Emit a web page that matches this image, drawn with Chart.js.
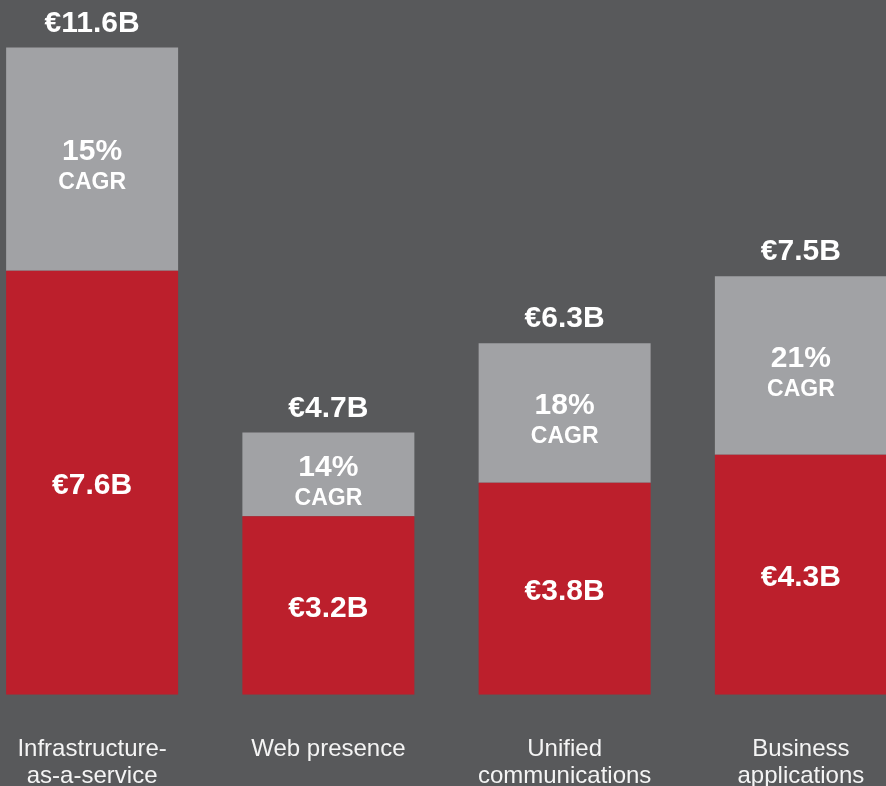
<!DOCTYPE html>
<html>
<head>
<meta charset="utf-8">
<script src="https://cdn.jsdelivr.net/npm/chart.js@4"></script>
<style>
    html, body {
        margin: 0;
        padding: 0;
        background: #58595b;
        overflow: hidden;
        width: 886px;
        height: 786px;
    }
    #marketChart {
        position: absolute;
        left: -26px;
        top: 0;
    }
</style>
</head>
<body>
<canvas id="marketChart" width="945" height="831"></canvas>
<script>
// Chart data
const categories = [
    ['Infrastructure-', 'as-a-service'],
    'Web presence',
    ['Unified', 'communications'],
    ['Business', 'applications']
];
const baseValues = [7.6, 3.2, 3.8, 4.3];     // current market size (red)
const growthValues = [4.0, 1.5, 2.5, 3.2];   // added by growth (grey)
const cagrLabels = ['15%', '14%', '18%', '21%'];

const FONT = '"Liberation Sans", Arial, Helvetica, sans-serif';
const RED = '#bc1f2c';
const GREY = '#a1a2a5';

// Format a value in billions of euro
function euro(v) {
    return '\u20AC' + v.toFixed(1) + 'B';
}

// Draw value labels on and above the bars
const barLabels = {
    id: 'barLabels',
    afterDatasetsDraw(chart) {
        const ctx = chart.ctx;
        const baseMeta = chart.getDatasetMeta(0);
        const growthMeta = chart.getDatasetMeta(1);
        ctx.save();
        ctx.fillStyle = '#ffffff';
        ctx.textAlign = 'center';
        ctx.textBaseline = 'middle';

        baseMeta.data.forEach((bar, i) => {
            const top = growthMeta.data[i];

            // red segment value
            ctx.font = 'bold 30px ' + FONT;
            ctx.fillText(euro(baseValues[i]), bar.x, (bar.y + bar.base) / 2 + 3);

            // grey segment CAGR
            const mid = (top.y + top.base) / 2;
            ctx.font = 'bold 30px ' + FONT;
            ctx.fillText(cagrLabels[i], top.x, mid - 7);
            ctx.font = 'bold 23px ' + FONT;
            ctx.fillText('CAGR', top.x, mid + 24);

            // total above the bar
            ctx.font = 'bold 30px ' + FONT;
            ctx.fillText(euro(baseValues[i] + growthValues[i]), top.x, top.y - 24);
        });
        ctx.restore();
    }
};

const ctx = document.getElementById('marketChart').getContext('2d');
new Chart(ctx, {
    type: 'bar',
    data: {
        labels: categories,
        datasets: [{
            label: 'Current',
            data: baseValues,
            backgroundColor: RED,
            borderWidth: 0
        }, {
            label: 'Growth',
            data: growthValues,
            backgroundColor: GREY,
            borderWidth: 0
        }]
    },
    options: {
        responsive: false,
        animation: false,
        layout: { padding: 0 },
        datasets: {
            bar: {
                categoryPercentage: 1,
                barPercentage: 0.728
            }
        },
        plugins: {
            legend: { display: false },
            tooltip: { enabled: false }
        },
        scales: {
            x: {
                stacked: true,
                grid: { display: false, drawTicks: false },
                border: { display: false },
                ticks: {
                    color: '#f4f4f4',
                    padding: 41,
                    maxRotation: 0,
                    autoSkip: false,
                    font: { family: FONT, size: 24, lineHeight: 1.13 }
                }
            },
            y: {
                stacked: true,
                display: false,
                min: 0,
                max: 12.45
            }
        }
    },
    plugins: [barLabels]
});
</script>
</body>
</html>
